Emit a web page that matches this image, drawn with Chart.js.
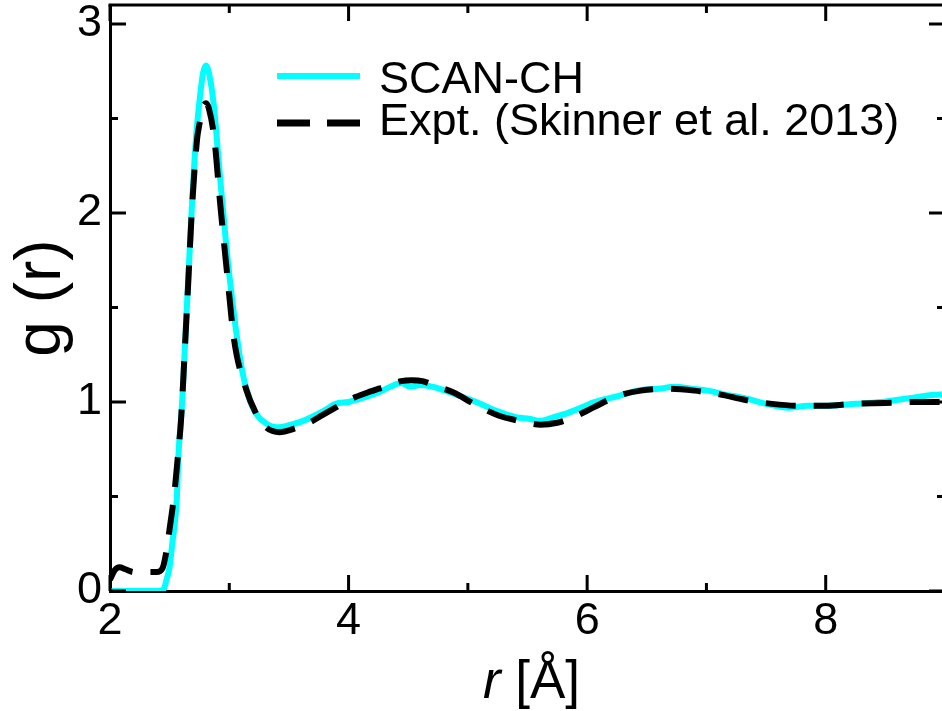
<!DOCTYPE html>
<html><head><meta charset="utf-8">
<script src="https://cdn.jsdelivr.net/npm/chart.js@4"></script>
<style>
html,body{margin:0;padding:0;background:#fff;overflow:hidden}
#wrap{width:942px;height:711px;overflow:hidden;position:relative;background:#fff}
canvas{display:block}
</style></head><body>
<div id="wrap"><canvas id="c" width="952" height="711" style="width:952px;height:711px"></canvas></div>
<script>
// ---- data ----
const scanR = [2.00,2.40,2.45,2.47,2.50,2.52,2.56,2.574,2.603,2.631,2.659,2.687,2.72,2.75,2.78,2.805,2.83,2.87,2.92,2.97,3.03,3.11,3.19,3.30,3.42,3.52,3.62,3.72,3.81,3.89,4.00,4.16,4.25,4.35,4.44,4.52,4.60,4.71,4.85,5.07,5.25,5.40,5.52,5.61,5.72,5.83,5.95,6.06,6.25,6.42,6.60,6.74,6.88,7.01,7.15,7.32,7.50,7.69,7.85,8.01,8.25,8.46,8.70,8.96,9.00];
const scanG = [0.00,0.00,0.01,0.05,0.13,0.24,0.49,0.72,0.98,1.33,1.69,2.04,2.39,2.59,2.74,2.78,2.74,2.57,2.21,1.86,1.51,1.16,0.98,0.89,0.866,0.88,0.90,0.93,0.96,0.99,1.00,1.03,1.05,1.08,1.10,1.08,1.09,1.08,1.05,1.00,0.95,0.92,0.91,0.90,0.92,0.94,0.97,1.00,1.03,1.06,1.07,1.08,1.07,1.06,1.04,1.02,0.99,0.97,0.98,0.98,0.99,1.00,1.02,1.04,1.04];
const exptR = [2.00,2.04,2.08,2.13,2.20,2.30,2.39,2.44,2.47,2.50,2.54,2.57,2.595,2.625,2.655,2.685,2.73,2.75,2.78,2.805,2.83,2.875,2.925,2.98,3.04,3.14,3.22,3.30,3.42,3.55,3.67,3.78,3.89,4.00,4.16,4.30,4.44,4.53,4.62,4.75,4.88,5.05,5.25,5.43,5.61,5.75,5.89,6.05,6.25,6.45,6.69,6.90,7.11,7.33,7.55,7.78,8.00,8.23,8.50,8.75,9.00];
const exptG = [0.06,0.11,0.125,0.115,0.10,0.10,0.10,0.12,0.20,0.33,0.52,0.72,0.90,1.25,1.62,2.00,2.39,2.47,2.56,2.58,2.55,2.39,2.04,1.69,1.33,1.07,0.945,0.87,0.84,0.86,0.89,0.93,0.97,1.01,1.05,1.08,1.11,1.115,1.11,1.08,1.05,0.99,0.93,0.90,0.88,0.89,0.92,0.97,1.03,1.06,1.07,1.06,1.04,1.01,0.99,0.98,0.98,0.99,0.995,1.00,1.00];
const seriesNames = ['SCAN-CH','Expt. (Skinner et al. 2013)'];
const xMajorTicks = [2,4,6,8];
const xMinorTicks = [3,5,7,9];
const yMajorTicks = [0,1,2,3];
const yMinorTicks = [0.5,1.5,2.5];
const xTitleItalic = 'r';
const xTitleRest = '[Å]';
const yTitle = 'g (r)';

const FONT = '"Liberation Sans", Arial, Helvetica, sans-serif';
const CYAN = '#00FFFF';

const framePlugin = {
  id: 'frame',
  afterDraw(chart) {
    const {ctx, chartArea: a, scales: {x, y}} = chart;
    ctx.save();
    ctx.strokeStyle = '#000';
    ctx.lineWidth = 3;
    ctx.lineCap = 'butt';
    ctx.beginPath();
    ctx.moveTo(a.left - 1.5, a.top); ctx.lineTo(a.right + 1.5, a.top);
    ctx.moveTo(a.right, a.top); ctx.lineTo(a.right, a.bottom);
    ctx.stroke();
    const tick = (vals, len, horiz) => {
      ctx.beginPath();
      vals.forEach(v => {
        if (horiz) {
          const px = x.getPixelForValue(v);
          ctx.moveTo(px, a.bottom); ctx.lineTo(px, a.bottom - len);
          ctx.moveTo(px, a.top); ctx.lineTo(px, a.top + len);
        } else {
          const py = y.getPixelForValue(v);
          ctx.moveTo(a.left, py); ctx.lineTo(a.left + len, py);
          ctx.moveTo(a.right, py); ctx.lineTo(a.right - len, py);
        }
      });
      ctx.stroke();
    };
    tick(xMajorTicks, 16, true);
    tick(xMinorTicks, 8, true);
    tick(yMajorTicks, 16, false);
    tick(yMinorTicks, 8, false);

    ctx.fillStyle = '#000';
    ctx.textBaseline = 'alphabetic';
    ctx.textAlign = 'left';
    const fi = 'italic 53px ' + FONT, fn = '53px ' + FONT;
    ctx.font = fi; const w1 = ctx.measureText(xTitleItalic + ' ').width;
    ctx.font = fn; const w2 = ctx.measureText(xTitleRest).width;
    const cx = (a.left + a.right) / 2 + 4;
    const sx = cx - (w1 + w2) / 2;
    ctx.font = fi; ctx.fillText(xTitleItalic + ' ', sx, 698);
    ctx.font = fn; ctx.fillText(xTitleRest, sx + w1, 698);

    ctx.lineWidth = 6;
    ctx.strokeStyle = CYAN;
    ctx.beginPath(); ctx.moveTo(277, 76); ctx.lineTo(360, 76); ctx.stroke();
    ctx.strokeStyle = '#000';
    ctx.lineWidth = 7;
    ctx.setLineDash([33, 17]);
    ctx.beginPath(); ctx.moveTo(277, 123); ctx.lineTo(360, 123); ctx.stroke();
    ctx.setLineDash([]);
    ctx.font = '45px ' + FONT;
    ctx.fillText(seriesNames[0], 379, 93);
    ctx.fillText(seriesNames[1], 379, 135);
    ctx.restore();
  }
};

new Chart(document.getElementById('c'), {
  type: 'line',
  data: {
    datasets: [
      {
        label: seriesNames[0],
        data: scanR.map((r, i) => ({x: r, y: scanG[i]})),
        borderColor: CYAN, borderWidth: 6, pointRadius: 0,
        cubicInterpolationMode: 'monotone', fill: false, order: 1
      },
      {
        label: seriesNames[1],
        data: exptR.map((r, i) => ({x: r, y: exptG[i]})),
        borderColor: '#000', borderWidth: 6, borderDash: [30, 18], pointRadius: 0,
        cubicInterpolationMode: 'monotone', fill: false, order: 0
      }
    ]
  },
  options: {
    responsive: false, animation: false, devicePixelRatio: 1,
    layout: {padding: {top: 5, right: 7, left: 0, bottom: 0}},
    plugins: {legend: {display: false}, tooltip: {enabled: false}},
    scales: {
      x: {
        type: 'linear', min: 2, max: 9,
        afterBuildTicks: s => { s.ticks = xMajorTicks.map(v => ({value: v})); },
        afterFit: s => { s.height = 120; s.paddingLeft = 0; s.paddingRight = 0; },
        grid: {display: false, drawTicks: false},
        border: {display: true, width: 3, color: '#000'},
        ticks: {color: '#000', padding: 4, maxRotation: 0, autoSkip: false,
          font: {family: FONT, size: 45}, callback: v => String(v)}
      },
      y: {
        type: 'linear', min: 0, max: 3.1,
        afterBuildTicks: s => { s.ticks = yMajorTicks.map(v => ({value: v})); },
        afterFit: s => { s.width = 110; s.paddingTop = 0; s.paddingBottom = 0; },
        grid: {display: false, drawTicks: false},
        border: {display: true, width: 3, color: '#000'},
        ticks: {color: '#000', padding: 8, autoSkip: false,
          font: {family: FONT, size: 45}, callback: v => String(v)},
        title: {display: true, text: yTitle, color: '#000',
          font: {family: FONT, size: 64}, padding: {top: 4, bottom: 0}}
      }
    }
  },
  plugins: [framePlugin]
});
</script>
</body></html>
